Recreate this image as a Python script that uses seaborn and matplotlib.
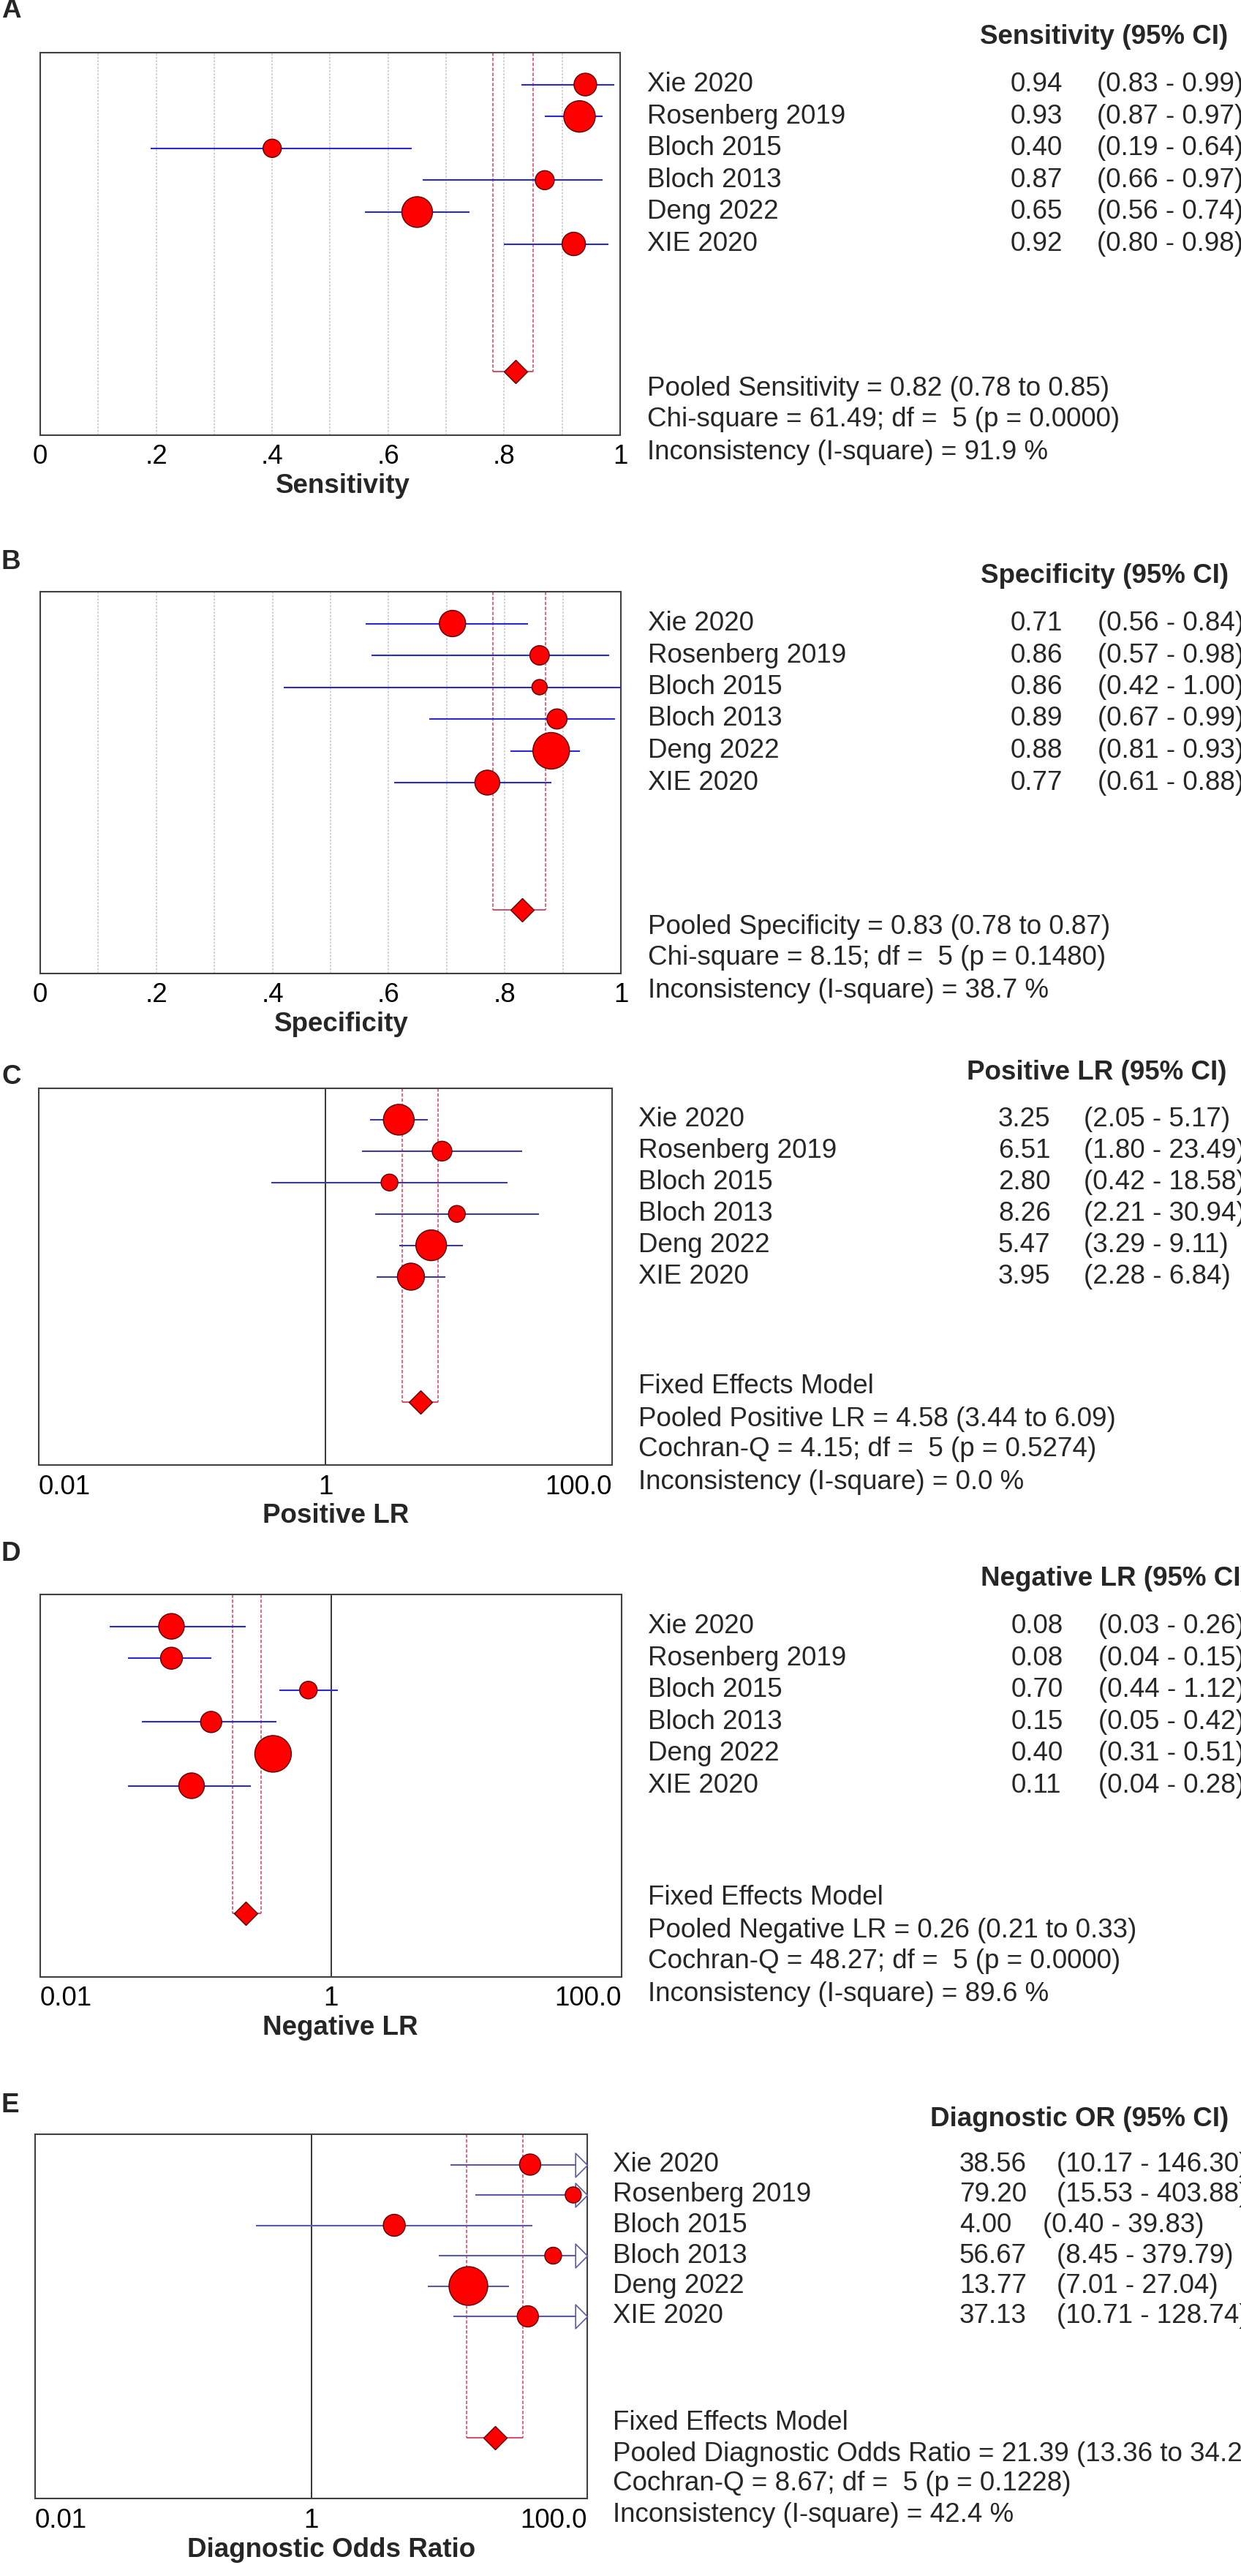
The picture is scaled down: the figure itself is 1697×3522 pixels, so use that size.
import numpy as np
import matplotlib
matplotlib.use("Agg")
import matplotlib.pyplot as plt
import matplotlib.transforms as mtransforms
from matplotlib.path import Path
import seaborn as sns

# ---------------- data ----------------
studies = ["Xie 2020", "Rosenberg 2019", "Bloch 2015", "Bloch 2013", "Deng 2022", "XIE 2020"]

sens = [0.94, 0.93, 0.40, 0.87, 0.65, 0.92]
sens_lo = [0.83, 0.87, 0.19, 0.66, 0.56, 0.80]
sens_hi = [0.99, 0.97, 0.64, 0.97, 0.74, 0.98]
sens_w = [31, 43, 25, 26, 42, 32]
sens_pooled = [0.82, 0.78, 0.85]

spec = [0.71, 0.86, 0.86, 0.89, 0.88, 0.77]
spec_lo = [0.56, 0.57, 0.42, 0.67, 0.81, 0.61]
spec_hi = [0.84, 0.98, 1.00, 0.99, 0.93, 0.88]
spec_w = [36, 26.5, 21, 27.5, 50, 34]
spec_pooled = [0.83, 0.78, 0.87]

plr = [3.25, 6.51, 2.80, 8.26, 5.47, 3.95]
plr_lo = [2.05, 1.80, 0.42, 2.21, 3.29, 2.28]
plr_hi = [5.17, 23.49, 18.58, 30.94, 9.11, 6.84]
plr_w = [42, 27, 23, 23, 42, 37]
plr_pooled = [4.58, 3.44, 6.09]

nlr = [0.08, 0.08, 0.70, 0.15, 0.40, 0.11]
nlr_lo = [0.03, 0.04, 0.44, 0.05, 0.31, 0.04]
nlr_hi = [0.26, 0.15, 1.12, 0.42, 0.51, 0.28]
nlr_w = [35, 30, 24, 29, 50, 35]
nlr_pooled = [0.26, 0.21, 0.33]

dor = [38.56, 79.20, 4.00, 56.67, 13.77, 37.13]
dor_lo = [10.17, 15.53, 0.40, 8.45, 7.01, 10.71]
dor_hi = [146.30, 403.88, 39.83, 379.79, 27.04, 128.74]
dor_w = [29, 22, 30, 23, 53, 29]
dor_pooled = [21.39, 13.36, 34.24]

headers = ["Sensitivity (95% CI)", "Specificity (95% CI)", "Positive LR (95% CI)",
           "Negative LR (95% CI)", "Diagnostic OR (95% CI)"]
xlabels = ["Sensitivity", "Specificity", "Positive LR", "Negative LR", "Diagnostic Odds Ratio"]
letters = ["A", "B", "C", "D", "E"]

stats_text = [
    ["Pooled Sensitivity = 0.82 (0.78 to 0.85)",
     "Chi-square = 61.49; df =  5 (p = 0.0000)",
     "Inconsistency (I-square) = 91.9 %"],
    ["Pooled Specificity = 0.83 (0.78 to 0.87)",
     "Chi-square = 8.15; df =  5 (p = 0.1480)",
     "Inconsistency (I-square) = 38.7 %"],
    ["Fixed Effects Model",
     "Pooled Positive LR = 4.58 (3.44 to 6.09)",
     "Cochran-Q = 4.15; df =  5 (p = 0.5274)",
     "Inconsistency (I-square) = 0.0 %"],
    ["Fixed Effects Model",
     "Pooled Negative LR = 0.26 (0.21 to 0.33)",
     "Cochran-Q = 48.27; df =  5 (p = 0.0000)",
     "Inconsistency (I-square) = 89.6 %"],
    ["Fixed Effects Model",
     "Pooled Diagnostic Odds Ratio = 21.39 (13.36 to 34.24)",
     "Cochran-Q = 8.67; df =  5 (p = 0.1228)",
     "Inconsistency (I-square) = 42.4 %"],
]

lin_ticks = [0, 0.2, 0.4, 0.6, 0.8, 1.0]
lin_ticklabels = ["0", ".2", ".4", ".6", ".8", "1"]
log_ticks = [0.01, 1, 100]
log_ticklabels = ["0.01", "1", "100.0"]

panels_data = [
    (sens, sens_lo, sens_hi, sens_w, sens_pooled),
    (spec, spec_lo, spec_hi, spec_w, spec_pooled),
    (plr, plr_lo, plr_hi, plr_w, plr_pooled),
    (nlr, nlr_lo, nlr_hi, nlr_w, nlr_pooled),
    (dor, dor_lo, dor_hi, dor_w, dor_pooled),
]

# ---------------- layout (pixels) ----------------
W, H, DPI = 1697, 3522, 100
layout = [
    dict(box=(55, 72, 848, 595), letter_y=15, log=False, names_x=885, val_x=1382, ci_x=1500,
         head_x=1340, label_cx=469, ci_color="#2a2ad4"),
    dict(box=(55, 809, 849, 1331), letter_y=769, log=False, names_x=886, val_x=1382, ci_x=1501,
         head_x=1341, label_cx=467, ci_color="#2a2ad4"),
    dict(box=(53, 1488, 837, 2003), letter_y=1472, log=True, names_x=873, val_x=1365, ci_x=1482,
         head_x=1322, label_cx=459, ci_color="#3c3c96"),
    dict(box=(55, 2180, 850, 2703), letter_y=2124, log=True, names_x=886, val_x=1383, ci_x=1502,
         head_x=1341, label_cx=465, ci_color="#2a2ad4"),
    dict(box=(48, 2918, 803, 3416), letter_y=2878, log=True, names_x=838, val_x=1312, ci_x=1445,
         head_x=1272, label_cx=453, ci_color="#5a5aa6"),
]

sns.set_style("white")
plt.rcParams["font.family"] = ["Liberation Sans", "DejaVu Sans"]
FS = 26.5
RED = "#ff0000"
EDGE = "#5a0000"
POOL = "#d6405e"

fig = plt.figure(figsize=(W / DPI, H / DPI), dpi=DPI)
fig.patch.set_facecolor("white")

tri = Path([(0, 0), (-1, -1), (-1, 1), (0, 0)],
           [Path.MOVETO, Path.LINETO, Path.LINETO, Path.CLOSEPOLY])

rows = np.arange(1, 7)
POOL_ROW = 10

for i, (lay, (est, lo, hi, w, pooled)) in enumerate(zip(layout, panels_data)):
    l, t, r, b = lay["box"]
    ax = fig.add_axes([l / W, 1 - b / H, (r - l) / W, (b - t) / H])
    ax.set_facecolor("white")
    if lay["log"]:
        ax.set_xscale("log")
        xmin, xmax = 0.01, 100
    else:
        xmin, xmax = 0.0, 1.0
    ax.set_xlim(xmin, xmax)
    ax.set_ylim(12, 0)
    ax.set_yticks([])

    # grid / reference line
    if lay["log"]:
        ax.axvline(1, color="black", lw=1.1, zorder=1)
    else:
        for g in np.arange(1, 10) / 10:
            ax.axvline(g, color="#cfcfcf", lw=1.3, ls=(0, (1.5, 1)), zorder=0)

    # pooled CI guides
    p_est, p_lo, p_hi = pooled
    ax.vlines([p_lo, p_hi], 0, POOL_ROW, colors=POOL, linestyles=(0, (3, 1.5)), lw=1.1, zorder=2)
    ax.hlines(POOL_ROW, p_lo, p_hi, colors=POOL, lw=1.3, zorder=2)

    # CI lines
    hi_c = np.minimum(np.array(hi), xmax)
    lo_c = np.maximum(np.array(lo), xmin)
    ax.hlines(rows, lo_c, hi_c, colors=lay["ci_color"], lw=1.5, zorder=3)

    # arrows for truncated CIs
    for rr, h in zip(rows, hi):
        if h > xmax:
            ax.plot([xmax], [rr], marker=tri, ms=23.5, mfc="white", mec=lay["ci_color"],
                    mew=1.2, ls="none", zorder=3.5, clip_on=False)

    # study markers
    sizes = (np.array(w) * 0.72) ** 2
    sns.scatterplot(x=est, y=rows, s=sizes, color=RED, edgecolor=EDGE, linewidth=1.0,
                    ax=ax, zorder=4, legend=False)

    # pooled diamond
    ax.plot([p_est], [POOL_ROW], marker="D", ms=16, mfc=RED, mec=EDGE, mew=1.0,
            ls="none", zorder=5)

    # axes styling
    for sp in ax.spines.values():
        sp.set_color("#404040")
        sp.set_linewidth(1.5)
    if lay["log"]:
        ax.set_xticks(log_ticks)
        ax.set_xticklabels(log_ticklabels)
        ax.xaxis.set_minor_locator(matplotlib.ticker.NullLocator())
        tl = ax.get_xticklabels()
        tl[0].set_ha("left")
        tl[-1].set_ha("right")
    else:
        ax.set_xticks(lin_ticks)
        ax.set_xticklabels(lin_ticklabels)
    ax.tick_params(axis="x", length=0, pad=9, labelsize=FS, colors="black")
    ax.set_xlabel(xlabels[i], fontsize=FS, fontweight="bold")
    ax.xaxis.set_label_coords((lay["label_cx"] - l) / (r - l), -70 / (b - t))
    ax.xaxis.label.set_va("center")

    # panel letter
    fig.text(2 / W, 1 - lay["letter_y"] / H, letters[i], fontsize=FS, fontweight="bold",
             ha="left", va="center")

    # right-hand text
    trans = mtransforms.blended_transform_factory(fig.transFigure, ax.transData)
    ax.text(lay["head_x"] / W, -0.5, headers[i], transform=trans, fontsize=FS,
            fontweight="bold", ha="left", va="center", clip_on=False)
    for rr, name, e, lw_, hw in zip(rows, studies, est, lo, hi):
        vs = f"{e:.2f}"
        ax.text(lay["names_x"] / W, rr, name, transform=trans, fontsize=FS,
                ha="left", va="center", clip_on=False)
        ax.text(lay["val_x"] / W, rr, vs, transform=trans, fontsize=FS,
                ha="left", va="center", clip_on=False)
        cx = lay["ci_x"]
        if lay["log"] and i == 4 and len(vs) < 5:
            cx = lay["ci_x"] - 19
        ax.text(cx / W, rr, f"({lw_:.2f} - {hw:.2f})", transform=trans, fontsize=FS,
                ha="left", va="center", clip_on=False)

    st = stats_text[i]
    ys = [10.55, 11.5, 12.55] if len(st) == 3 else [9.5, 10.55, 11.5, 12.55]
    for yy, s in zip(ys, st):
        ax.text(lay["names_x"] / W, yy, s, transform=trans, fontsize=FS,
                ha="left", va="center", clip_on=False)

fig.savefig("out.png", dpi=DPI, facecolor="white")
